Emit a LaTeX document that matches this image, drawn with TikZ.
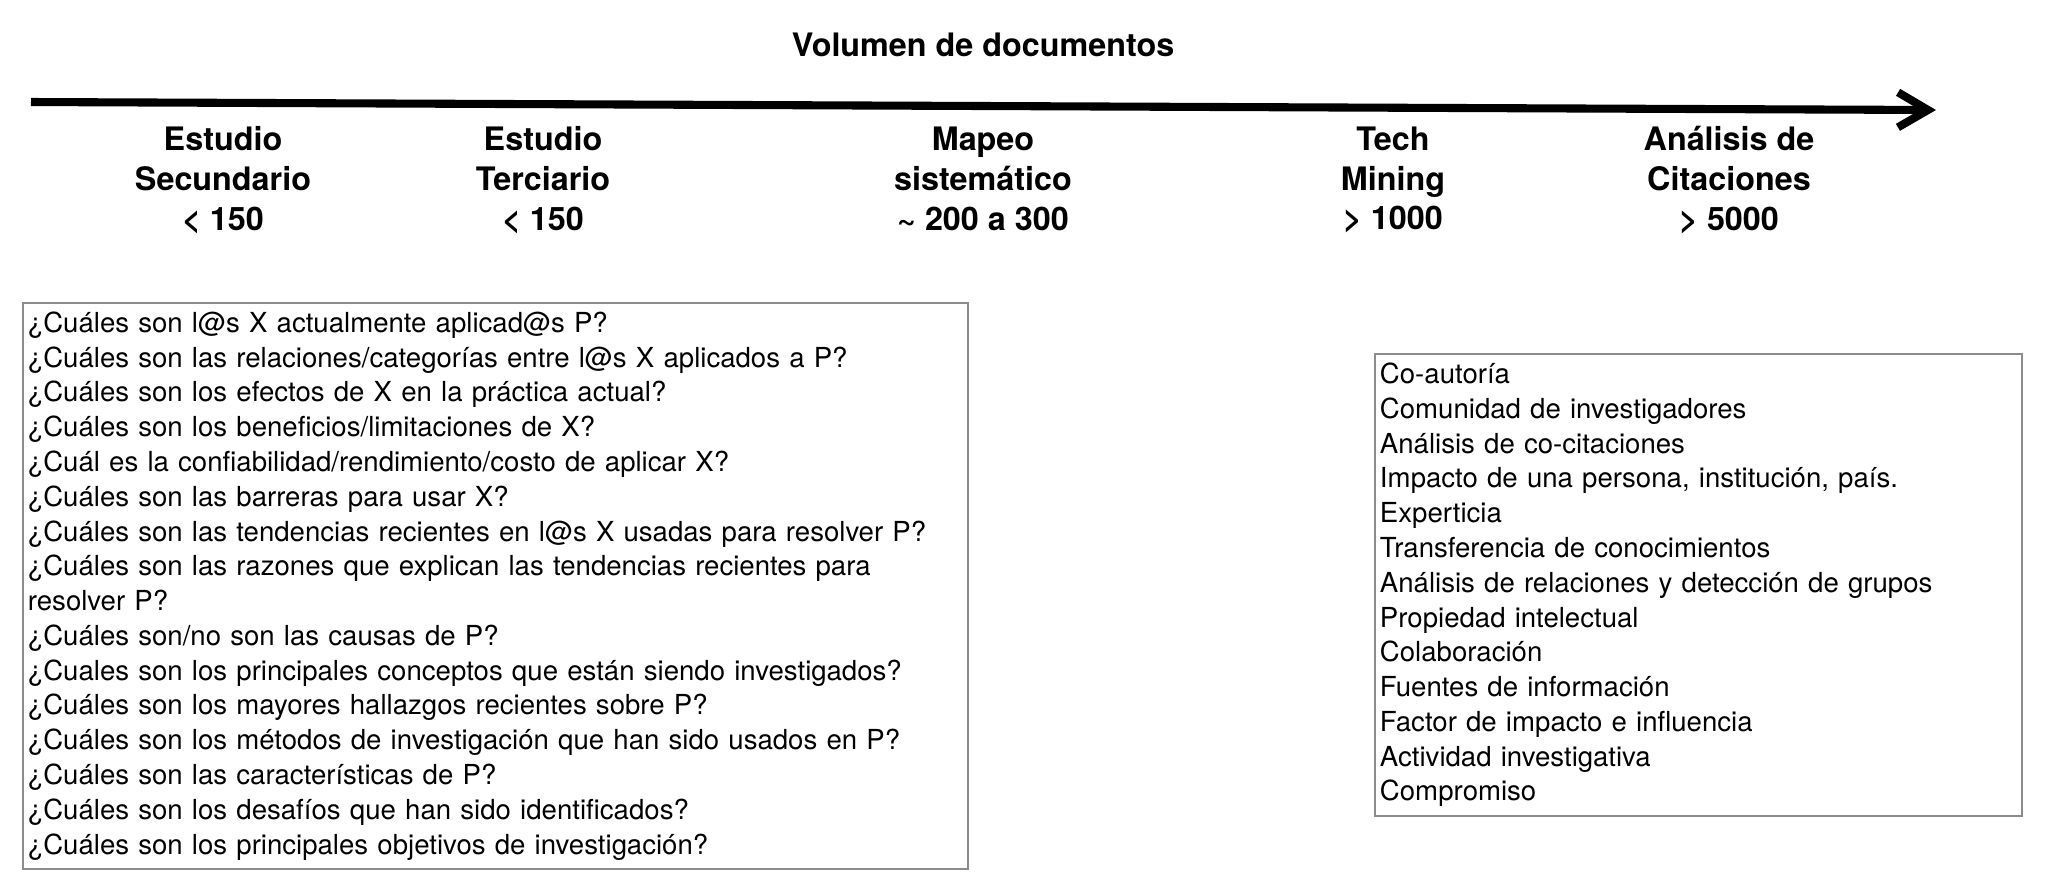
\documentclass[tikz,border=0pt]{standalone}
\usepackage{fontspec}
\setmainfont{TeX Gyre Heros}
\usepackage{tikz}
\usetikzlibrary{arrows.meta}

\definecolor{boxgray}{HTML}{8C8C8C}

\begin{document}
\begin{tikzpicture}[x=0.02cm,y=-0.02cm]
		\tikzstyle{AxisSty}=[-{Straight Barb[length=6mm,width=7mm]},line width=4.6pt]
		\tikzstyle{headline}=[font=\bfseries\fontsize{18.4}{22.6}\selectfont,
								  align=center,
								  inner sep=0pt]
		\tikzstyle{stage}=[headline]
		\tikzstyle{listbox}=[draw=boxgray,
								 line width=1.1pt,
								 anchor=north west,
								 inner xsep=0.1cm,
								 inner ysep=0pt,
								 align=left,
								 font=\fontsize{15.7}{19.8}\selectfont]

\useasboundingbox (0,0) rectangle (2058,894);

% Axis
\node [headline] at (983,45) (title) {Volumen de documentos};
\coordinate (axisbeg) at (31,102);
\coordinate (axisend) at (1936,110);
	\path[AxisSty] (axisbeg) edge (axisend);

% Stages
\node [stage] at (223,180) (secundario) {Estudio\\Secundario\\< 150};
\node [stage] at (543,180) (terciario) {Estudio\\Terciario\\< 150};
\node [stage] at (983,179) (mapeo) {Mapeo\\sistemático\\\textasciitilde\ 200 a 300};
\node [stage] at (1393,180) (techmining) {Tech\\Mining\\> 1000};
\node [stage] at (1729,180) (citaciones) {Análisis de\\Citaciones\\> 5000};

% Lists
\node [listbox,text width=18.7cm,minimum height=11.32cm] at (22,302) (questions) {%
¿Cuáles son l@s X actualmente aplicad@s P?\\
¿Cuáles son las relaciones/categorías entre l@s X aplicados a P?\\
¿Cuáles son los efectos de X en la práctica actual?\\
¿Cuáles son los beneficios/limitaciones de X?\\
¿Cuál es la confiabilidad/rendimiento/costo de aplicar X?\\
¿Cuáles son las barreras para usar X?\\
¿Cuáles son las tendencias recientes en l@s X usadas para resolver P?\\
¿Cuáles son las razones que explican las tendencias recientes para\\
resolver P?\\
¿Cuáles son/no son las causas de P?\\
¿Cuales son los principales conceptos que están siendo investigados?\\
¿Cuáles son los mayores hallazgos recientes sobre P?\\
¿Cuáles son los métodos de investigación que han sido usados en P?\\
¿Cuáles son las características de P?\\
¿Cuáles son los desafíos que han sido identificados?\\
¿Cuáles son los principales objetivos de investigación?\\[-0.1cm]};

\node [listbox,text width=12.74cm,minimum height=9.24cm] at (1374,353) (metrics) {%
Co-autoría\\
Comunidad de investigadores\\
Análisis de co-citaciones\\
Impacto de una persona, institución, país.\\
Experticia\\
Transferencia de conocimientos\\
Análisis de relaciones y detección de grupos\\
Propiedad intelectual\\
Colaboración\\
Fuentes de información\\
Factor de impacto e influencia\\
Actividad investigativa\\
Compromiso\\[-0.1cm]};

\end{tikzpicture}
\end{document}
